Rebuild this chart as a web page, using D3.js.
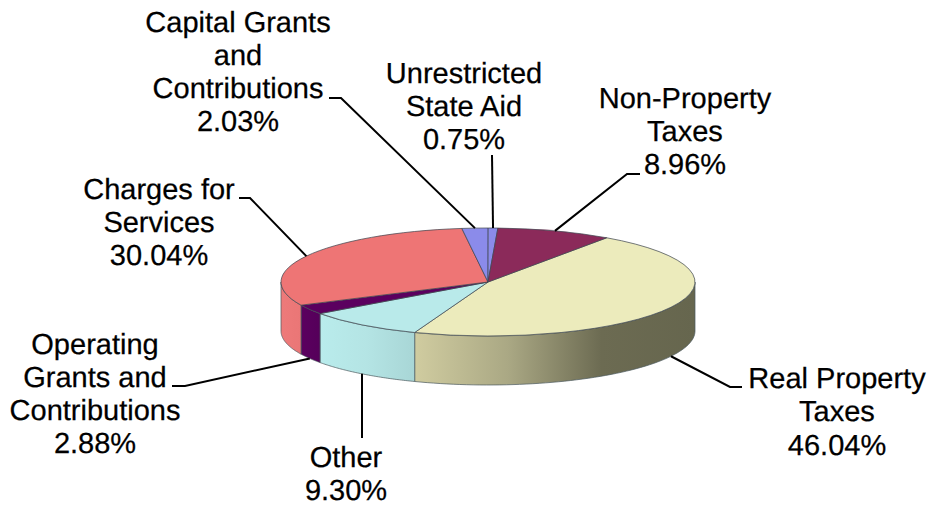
<!DOCTYPE html>
<html>
<head>
<meta charset="utf-8">
<script src="https://cdn.jsdelivr.net/npm/d3@7"></script>
<style>
  html, body { margin: 0; padding: 0; background: #fff; }
  svg { display: block; }
  text { font-family: "Liberation Sans", Arial, sans-serif; font-size: 29px; fill: #000; stroke: #000; stroke-width: 0.25px; text-anchor: middle; text-rendering: geometricPrecision; }
</style>
</head>
<body>
<script>
// Revenue sources, clockwise from the upper-right edge of the disc.
const categories = ["Real Property Taxes", "Other", "Operating Grants and Contributions",
  "Charges for Services", "Capital Grants and Contributions", "Unrestricted State Aid", "Non-Property Taxes"];
const shares = [46.04, 9.30, 2.88, 30.04, 2.03, 0.75, 8.96];
const topColors = ["#ecebbc", "#b9eaea", "#5b005f", "#ee7575", "#8b8bea", "#8b8bea", "#8b2a5a"];
const wallStops = [
  ["#d0cca0", "#aaa884", "#6c6b52", "#66664e"],
  ["#b9ecec", "#b4e4e4", "#a8d6d6"],
  ["#5b005f", "#55005a"],
  ["#ee7a7a", "#ea7676"],
  ["#8b8bea"], ["#8b8bea"], ["#8b2a5a"]
];

// Wrapped label text for each slice, in the same order as the categories.
const labelLines = [
  ["Real Property", "Taxes"],
  ["Other"],
  ["Operating", "Grants and", "Contributions"],
  ["Charges for", "Services"],
  ["Capital Grants", "and", "Contributions"],
  ["Unrestricted", "State Aid"],
  ["Non-Property", "Taxes"]
];
// Where each label block sits: centre x and the baseline of its first line.
const labelCenters = [837, 346, 95, 159, 238, 464, 685];
const labelBaselines = [388, 466.5, 353.5, 198.5, 31.5, 82.5, 107.5];
// Leader elbows: the text end of the line, then the bend before it heads to the slice.
const leaderEnds = [[742, 387], [362, 438], [172, 386], [239, 198], [329, 98], [492, 155], [640, 174]];
const leaderBends = [[730, 387], [362, 438], [185, 386], [250, 198], [341, 98], [492, 155], [627, 174]];

const width = 930, height = 506;
const cx = 488, cy = 282, rx = 207, ry = 54, depth = 49;
const lineHeight = 33.3;
const deg = Math.PI / 180;

const svg = d3.select("body").append("svg").attr("width", width).attr("height", height);
const defs = svg.append("defs");

const pie = d3.pie().value(d => d).sort(null).startAngle(35 * deg).endAngle(395 * deg);
const slices = pie(shares);

// Angle is measured clockwise from the top of the disc.
const rim = (a, dy = 0) => [cx + rx * Math.sin(a), cy - ry * Math.cos(a) + dy];

// Side walls only exist on the near half of the disc.
const front = slices
  .map((s, i) => ({ i, a0: Math.max(s.startAngle, Math.PI / 2), a1: Math.min(s.endAngle, 1.5 * Math.PI) }))
  .filter(d => d.a1 > d.a0);

front.forEach(d => {
  const xs = [rim(d.a0)[0], rim(d.a1)[0]];
  const g = defs.append("linearGradient").attr("id", `wall-${d.i}`)
    .attr("gradientUnits", "userSpaceOnUse")
    .attr("x1", d3.min(xs)).attr("x2", d3.max(xs)).attr("y1", 0).attr("y2", 0);
  const stops = wallStops[d.i];
  stops.forEach((c, k) => g.append("stop")
    .attr("offset", stops.length > 1 ? k / (stops.length - 1) : 0)
    .attr("stop-color", c));
});

const outline = d3.line();
const wallPath = d => {
  const n = 60;
  const angles = d3.range(n + 1).map(k => d.a0 + (d.a1 - d.a0) * k / n);
  const upper = angles.map(a => rim(a));
  const lower = angles.slice().reverse().map(a => rim(a, depth));
  return outline(upper.concat(lower)) + "Z";
};

svg.append("g").selectAll("path").data(front).join("path")
  .attr("d", wallPath)
  .attr("fill", d => `url(#wall-${d.i})`)
  .attr("stroke", "#4d5a5f")
  .attr("stroke-opacity", 0.8)
  .attr("stroke-width", 0.9);

// Top face: ordinary arcs squashed vertically into an ellipse.
const arc = d3.arc().innerRadius(0).outerRadius(rx);
svg.append("g")
  .attr("transform", `translate(${cx},${cy}) scale(1,${ry / rx})`)
  .selectAll("path").data(slices).join("path")
  .attr("d", arc)
  .attr("fill", (d, i) => topColors[i])
  .attr("stroke", "#3f4650")
  .attr("stroke-opacity", 0.8)
  .attr("stroke-width", 0.9)
  .attr("vector-effect", "non-scaling-stroke");

// Leader lines run from the label to the slice edge at its middle angle.
const leaderLine = d3.line();
const anchor = s => {
  const mid = (s.startAngle + s.endAngle) / 2;
  const near = Math.cos(mid) < 0;
  return rim(mid, near ? depth : 0);
};
svg.append("g").selectAll("path").data(slices).join("path")
  .attr("d", (s, i) => leaderLine([leaderEnds[i], leaderBends[i], anchor(s)]))
  .attr("fill", "none")
  .attr("stroke", "#000")
  .attr("stroke-width", 2);

const labels = svg.append("g").selectAll("text").data(categories).join("text")
  .attr("aria-label", d => d)
  .attr("y", (d, i) => labelBaselines[i]);
labels.each(function (d, i) {
  const rows = labelLines[i].concat(d3.format(".2f")(shares[i]) + "%");
  d3.select(this).selectAll("tspan").data(rows).join("tspan")
    .attr("x", labelCenters[i])
    .attr("y", (r, k) => labelBaselines[i] + k * lineHeight)
    .text(r => r);
});
</script>
</body>
</html>
